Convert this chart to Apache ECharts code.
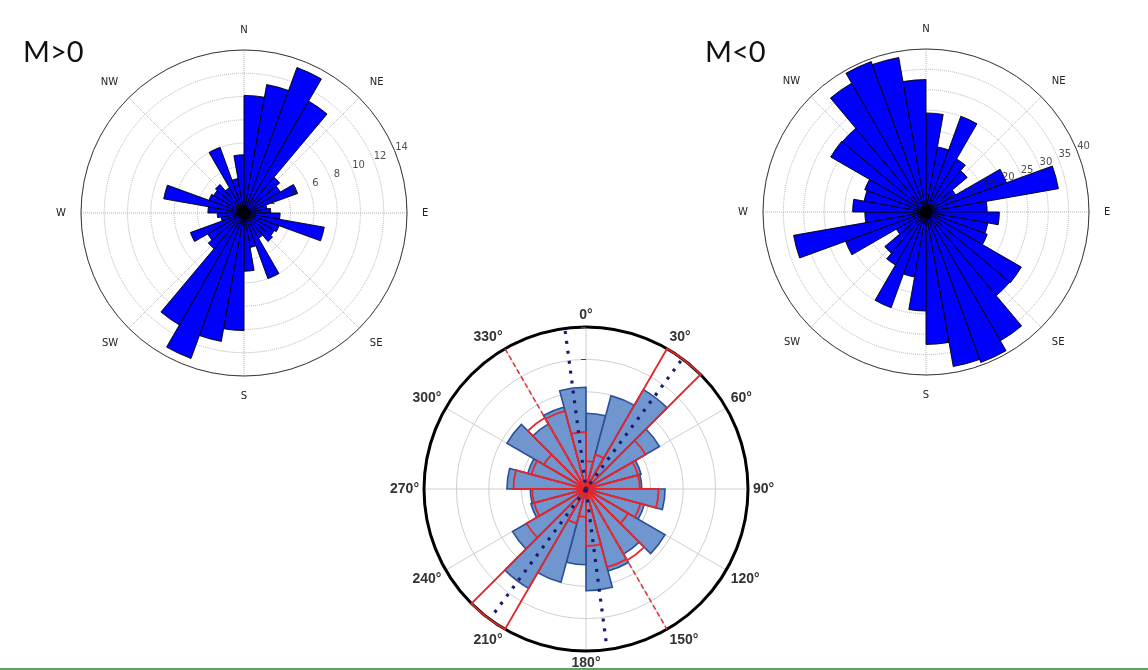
<!DOCTYPE html>
<html>
<head>
<meta charset="utf-8">
<script src="https://cdn.jsdelivr.net/npm/echarts@6/dist/echarts.min.js"></script>
<style>
  html, body { margin: 0; padding: 0; background: #ffffff; }
  #chart { width: 1148px; height: 670px; }
</style>
</head>
<body>
<div id="chart"></div>
<script>
// ---------- tick labels ----------
const compassLabels = ['N', 'NE', 'E', 'SE', 'S', 'SW', 'W', 'NW'];
const degreeLabels = ['0°', '30°', '60°', '90°', '120°', '150°', '180°', '210°', '240°', '270°', '300°', '330°'];
const mPositiveRings = [2, 4, 6, 8, 10, 12, 14];
const mNegativeRings = [5, 10, 15, 20, 25, 30, 35, 40];

// ---------- upper roses: 10° bins ----------
const topBinStart = [0, 10, 20, 30, 40, 50, 60, 70, 80, 90, 100, 110, 120, 130, 140, 150, 160, 170,
                     180, 190, 200, 210, 220, 230, 240, 250, 260, 270, 280, 290, 300, 310, 320, 330, 340, 350];
const topBinWidth = 10;
// M>0 counts per bin
const mPositive = [10.1, 11.2, 13.3, 11.1, 4.0, 3.6, 4.9, 2.0, 2.3, 3.1, 7.0, 3.2, 3.0, 3.2, 2.5, 6.0, 3.0, 5.0,
                   10.1, 11.2, 13.3, 11.1, 4.0, 3.6, 4.9, 2.0, 2.3, 3.1, 7.0, 3.2, 3.0, 3.2, 2.5, 6.0, 3.0, 5.0];
// M<0 counts per bin
const mNegative = [24.3, 16.2, 25.0, 15.0, 13.2, 8.4, 21.0, 33.0, 15.0, 18.0, 15.4, 16.0, 27.0, 26.8, 36.5, 39.3, 38.5, 32.5,
                   24.3, 16.2, 25.0, 15.0, 13.2, 8.4, 21.0, 33.0, 15.0, 18.0, 15.4, 16.0, 27.0, 26.8, 36.5, 39.3, 38.5, 32.5];

// ---------- lower rose: 15° bins ----------
const bottomBinStart = [0, 15, 30, 45, 60, 75, 90, 105, 120, 135, 150, 165,
                        180, 195, 210, 225, 240, 255, 270, 285, 300, 315, 330, 345];
const bottomBinWidth = 15;
const blueCounts = [11.7, 14.9, 17.7, 13.1, 8.8, 8.6, 12.2, 9.3, 14.1, 11.6, 13.1, 15.7,
                    11.7, 14.9, 17.7, 13.1, 8.8, 8.6, 12.2, 9.3, 14.1, 11.6, 13.1, 15.7];
const redCounts = [4.3, 5.5, 25.0, 10.6, 8.3, 8.3, 11.2, 8.7, 7.5, 12.7, 12.5, 8.8,
                   4.3, 5.5, 25.0, 10.6, 8.3, 8.3, 11.2, 8.7, 7.5, 12.7, 12.5, 8.8];
// orientation lines (azimuths of both ends)
const redDashedAxis = [330, 150];
const navyDottedAxes = [[352.5, 172.5], [36.5, 216.5]];
const bottomMax = 25;

// ---------- helpers ----------
function wedges(starts, width, values) {
  return starts.map((a, i) => [values[i], a + width / 2, a, a + width]);
}

function wedgeRenderer(style) {
  return function (params, api) {
    const v = api.value(0);
    const a0 = api.value(2);
    const a1 = api.value(3);
    const c = api.coord([0, a0]);
    const p0 = api.coord([v, a0]);
    const p1 = api.coord([v, a1]);
    const r = Math.hypot(p0[0] - c[0], p0[1] - c[1]);
    const s = Math.atan2(p0[1] - c[1], p0[0] - c[0]);
    let e = Math.atan2(p1[1] - c[1], p1[0] - c[0]);
    if (e <= s) e += Math.PI * 2;
    return {
      type: 'sector',
      shape: { cx: c[0], cy: c[1], r0: 0, r: r, startAngle: s, endAngle: e, clockwise: true },
      style: Object.assign({}, style)
    };
  };
}

function compassAngleAxis(idx) {
  return {
    polarIndex: idx, type: 'value', min: 0, max: 360, interval: 45,
    startAngle: 90, clockwise: true,
    axisLine: { lineStyle: { color: '#3a3a3a', width: 1 } },
    axisTick: { show: false },
    axisLabel: {
      margin: 15, fontSize: 10, color: '#222', fontFamily: 'DejaVu Sans',
      formatter: v => compassLabels[Math.round(v / 45)] || ''
    },
    splitLine: { lineStyle: { color: '#b3b3b3', type: 'dotted', width: 1 } }
  };
}

function dottedRadiusAxis(idx, max, step) {
  return {
    polarIndex: idx, type: 'value', min: 0, max: max, interval: step,
    axisLine: { show: false }, axisTick: { show: false }, axisLabel: { show: false },
    splitLine: { lineStyle: { color: '#b3b3b3', type: 'dotted', width: 1 } }
  };
}

function ringLabels(idx, rings) {
  return {
    type: 'scatter', coordinateSystem: 'polar', polarIndex: idx, z: 5,
    symbolSize: 1, itemStyle: { color: 'rgba(0,0,0,0)' }, silent: true,
    data: rings.map(v => [v, 67.5]),
    label: {
      show: true, position: 'inside', offset: [7, -3],
      fontSize: 10, color: '#222', fontFamily: 'DejaVu Sans',
      formatter: p => String(p.value[0])
    }
  };
}

// hub where the wedge outlines meet
function hub(idx, size, color, z) {
  return {
    type: 'scatter', coordinateSystem: 'polar', polarIndex: idx, z: z,
    symbol: 'circle', symbolSize: size, silent: true,
    itemStyle: { color: color },
    data: [[0, 0]]
  };
}

function axisLine(angles, max) {
  return [[max, angles[0]], [0, angles[0]], [max, angles[1]]];
}

const option = {
  animation: false,
  backgroundColor: '#ffffff',
  polar: [
    { center: [244, 213], radius: 163 },
    { center: [926, 212], radius: 163 },
    { center: [586, 489], radius: 162 }
  ],
  angleAxis: [
    compassAngleAxis(0),
    compassAngleAxis(1),
    {
      polarIndex: 2, type: 'value', min: 0, max: 360, interval: 30,
      startAngle: 90, clockwise: true,
      axisLine: { lineStyle: { color: '#000', width: 3 } },
      axisTick: { show: false },
      axisLabel: {
        margin: 5, fontSize: 14, fontWeight: 'bold', color: '#333', fontFamily: 'Liberation Sans',
        formatter: v => degreeLabels[Math.round(v / 30)] || ''
      },
      splitLine: { lineStyle: { color: '#cfcfcf', width: 1 } }
    }
  ],
  radiusAxis: [
    dottedRadiusAxis(0, 14, 2),
    dottedRadiusAxis(1, 40, 5),
    {
      polarIndex: 2, type: 'value', min: 0, max: bottomMax, interval: 5,
      axisLine: { show: false },
      axisTick: { show: true, length: 5, lineStyle: { color: '#444', width: 1 } },
      axisLabel: { show: false },
      splitLine: { lineStyle: { color: '#cfcfcf', width: 1 } }
    }
  ],
  graphic: [
    { type: 'text', left: 23, top: 38, style: { text: 'M>0', fontSize: 29, fontFamily: 'Lato', fill: '#111' } },
    { type: 'text', left: 705, top: 38, style: { text: 'M<0', fontSize: 29, fontFamily: 'Lato', fill: '#111' } },
    { type: 'rect', left: 0, top: 668, shape: { width: 1148, height: 2 }, style: { fill: '#5aa85d' } }
  ],
  series: [
    {
      type: 'custom', coordinateSystem: 'polar', polarIndex: 0, z: 2,
      data: wedges(topBinStart, topBinWidth, mPositive),
      renderItem: wedgeRenderer({ fill: '#0000ff', stroke: '#000', lineWidth: 0.9 })
    },
    {
      type: 'custom', coordinateSystem: 'polar', polarIndex: 1, z: 2,
      data: wedges(topBinStart, topBinWidth, mNegative),
      renderItem: wedgeRenderer({ fill: '#0000ff', stroke: '#000', lineWidth: 0.9 })
    },
    hub(0, 13, '#000', 3),
    hub(1, 13, '#000', 3),
    {
      type: 'custom', coordinateSystem: 'polar', polarIndex: 2, z: 2,
      data: wedges(bottomBinStart, bottomBinWidth, blueCounts),
      renderItem: wedgeRenderer({ fill: '#7096cf', stroke: '#2c4f96', lineWidth: 1.6 })
    },
    {
      type: 'custom', coordinateSystem: 'polar', polarIndex: 2, z: 3,
      data: wedges(bottomBinStart, bottomBinWidth, redCounts),
      renderItem: wedgeRenderer({ fill: 'none', stroke: '#e5262b', lineWidth: 1.8 })
    },
    hub(2, 13, '#e5262b', 3),
    {
      type: 'line', coordinateSystem: 'polar', polarIndex: 2, z: 4,
      symbol: 'none', silent: true,
      data: axisLine(redDashedAxis, bottomMax),
      lineStyle: { color: '#e0383a', width: 1.6, type: [5, 3] }
    },
    ...navyDottedAxes.map(ax => ({
      type: 'line', coordinateSystem: 'polar', polarIndex: 2, z: 4,
      symbol: 'none', silent: true,
      data: axisLine(ax, bottomMax - 0.4),
      lineStyle: { color: '#1c1c6e', width: 3.2, type: [3, 7] }
    })),
    hub(2, 5, '#1c1c6e', 5),
    ringLabels(0, mPositiveRings),
    ringLabels(1, mNegativeRings)
  ]
};

const chart = echarts.init(document.getElementById('chart'), null, { renderer: 'canvas' });
chart.setOption(option);
</script>
</body>
</html>
